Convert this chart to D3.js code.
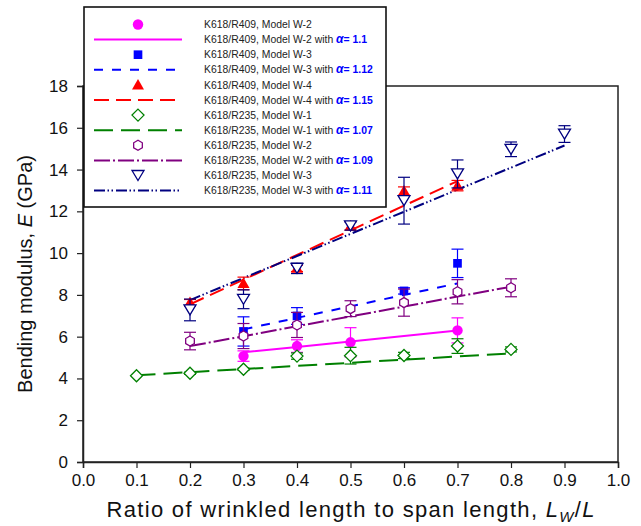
<!DOCTYPE html>
<html>
<head>
<meta charset="utf-8">
<script src="https://cdn.jsdelivr.net/npm/d3@7"></script>
<style>
  body { margin: 0; background: #fff; }
  svg { font-family: "Liberation Sans", Arial, sans-serif; }
</style>
</head>
<body>
<div id="chart"></div>
<script>
// tick values
var xTicks = [0, 0.1, 0.2, 0.3, 0.4, 0.5, 0.6, 0.7, 0.8, 0.9, 1.0];
var yTicks = [0, 2, 4, 6, 8, 10, 12, 14, 16, 18];

// K618/R409, Model W-2 (magenta circles) + fit a=1.1
var r409w2X = [0.3, 0.4, 0.5, 0.7];
var r409w2E = [5.07, 5.55, 5.73, 6.30];
var r409w2Err = [0.25, 0.3, 0.7, 0.6];
var r409w2FitX = [0.3, 0.4, 0.5, 0.6, 0.7];
var r409w2Fit = [5.25, 5.51, 5.77, 6.03, 6.29];

// K618/R409, Model W-3 (blue squares) + fit a=1.12
var r409w3X = [0.3, 0.4, 0.6, 0.7];
var r409w3E = [6.25, 6.99, 8.19, 9.51];
var r409w3Err = [0.7, 0.4, 0.15, 0.68];
var r409w3FitX = [0.3, 0.4, 0.5, 0.6, 0.7];
var r409w3Fit = [6.35, 6.9, 7.45, 8.0, 8.55];

// K618/R409, Model W-4 (red triangles) + fit a=1.15
var r409w4X = [0.2, 0.3, 0.4, 0.5, 0.6, 0.7];
var r409w4E = [7.63, 8.55, 9.27, 11.3, 12.97, 13.23];
var r409w4Err = [0.15, 0.3, 0.15, 0.2, 0.2, 0.25];
var r409w4FitX = [0.2, 0.3, 0.4, 0.5, 0.6, 0.7];
var r409w4Fit = [7.55, 8.73, 9.91, 11.09, 12.27, 13.45];

// K618/R235, Model W-1 (green diamonds) + fit a=1.07
var r235w1X = [0.1, 0.2, 0.3, 0.4, 0.5, 0.6, 0.7, 0.8];
var r235w1E = [4.13, 4.25, 4.44, 5.07, 5.09, 5.1, 5.55, 5.39];
var r235w1Err = [0, 0.05, 0.05, 0.15, 0.4, 0.15, 0.35, 0.12];
var r235w1FitX = [0.1, 0.2, 0.3, 0.4, 0.5, 0.6, 0.7, 0.8];
var r235w1Fit = [4.15, 4.3, 4.45, 4.6, 4.75, 4.9, 5.05, 5.2];

// K618/R235, Model W-2 (purple hexagons) + fit a=1.09
var r235w2X = [0.2, 0.3, 0.4, 0.5, 0.6, 0.7, 0.8];
var r235w2E = [5.79, 6.03, 6.56, 7.34, 7.63, 8.15, 8.34];
var r235w2Err = [0.42, 0.6, 0.6, 0.38, 0.65, 0.58, 0.43];
var r235w2FitX = [0.2, 0.3, 0.4, 0.5, 0.6, 0.7, 0.8];
var r235w2Fit = [5.55, 6.02, 6.5, 6.97, 7.44, 7.92, 8.39];

// K618/R235, Model W-3 (navy down triangles) + fit a=1.11
var r235w3X = [0.2, 0.3, 0.4, 0.5, 0.6, 0.7, 0.8, 0.9];
var r235w3E = [7.28, 7.79, 9.27, 11.3, 12.51, 13.79, 14.97, 15.7];
var r235w3Err = [0.52, 0.45, 0.25, 0.2, 1.12, 0.67, 0.35, 0.4];
var r235w3FitX = [0.2, 0.3, 0.4, 0.5, 0.6, 0.7, 0.8, 0.9];
var r235w3Fit = [7.75, 8.81, 9.86, 10.92, 11.98, 13.04, 14.09, 15.15];

var legendLabels = ["K618/R409, Model W-2", "K618/R409, Model W-2 with ",
  "K618/R409, Model W-3", "K618/R409, Model W-3 with ",
  "K618/R409, Model W-4", "K618/R409, Model W-4 with ",
  "K618/R235, Model W-1", "K618/R235, Model W-1 with ",
  "K618/R235, Model W-2", "K618/R235, Model W-2 with ",
  "K618/R235, Model W-3", "K618/R235, Model W-3 with "];
var alphas = ["1.1", "1.12", "1.15", "1.07", "1.09", "1.11"];

var W = 641, H = 526;
var margin = {top: 86, right: 23, bottom: 64, left: 83};
var width = W - margin.left - margin.right,
    height = H - margin.top - margin.bottom;

var svg = d3.select("#chart").append("svg")
    .attr("width", W).attr("height", H);
var g = svg.append("g")
    .attr("transform", "translate(" + margin.left + "," + margin.top + ")");

var x = d3.scaleLinear().domain([0, 1]).range([0, width]);
var y = d3.scaleLinear().domain([0, 18]).range([height, 0]);

// frame
g.append("rect").attr("width", width).attr("height", height)
  .attr("fill", "none").attr("stroke", "#222").attr("stroke-width", 1.5);

var xAxis = g.append("g")
    .attr("transform", "translate(0," + height + ")")
    .call(d3.axisBottom(x).tickValues(xTicks).tickSize(6).tickPadding(6)
      .tickFormat(d3.format(".1f")));
var yAxis = g.append("g")
    .call(d3.axisLeft(y).tickValues(yTicks).tickSize(6).tickPadding(9)
      .tickFormat(d3.format("d")));
[xAxis, yAxis].forEach(function(a) {
  a.select(".domain").attr("stroke", "#222").attr("stroke-width", 1.5);
  a.selectAll(".tick line").attr("stroke", "#222").attr("stroke-width", 1.2);
  a.selectAll("text").attr("font-size", "17px").attr("fill", "#111")
    .style("font-family", "Liberation Sans, Arial, sans-serif");
});

// axis titles
var xt = svg.append("text").attr("x", margin.left + width / 2).attr("y", 517)
  .attr("text-anchor", "middle").attr("font-size", "22px").attr("fill", "#111")
  .attr("textLength", 488).attr("lengthAdjust", "spacing");
xt.append("tspan").text("Ratio of wrinkled length to span length, ");
xt.append("tspan").attr("font-style", "italic").text("L");
xt.append("tspan").attr("font-style", "italic").attr("font-size", "15px").attr("dy", 5).text("W");
xt.append("tspan").attr("dy", -5).text("/");
xt.append("tspan").attr("font-style", "italic").text("L");

var yt = svg.append("text")
  .attr("transform", "translate(32," + (margin.top + height / 2) + ") rotate(-90)")
  .attr("text-anchor", "middle").attr("font-size", "20px").attr("fill", "#111");
yt.append("tspan").text("Bending modulus, ");
yt.append("tspan").attr("font-style", "italic").text("E");
yt.append("tspan").text(" (GPa)");

// marker shapes
function markerPath(type) {
  if (type == "circle") return d3.symbol().type(d3.symbolCircle).size(85)();
  if (type == "square") return d3.symbol().type(d3.symbolSquare).size(75)();
  if (type == "triangle") return "M0,-6L6,4.5L-6,4.5Z";
  if (type == "diamond") return "M0,-6L6,0L0,6L-6,0Z";
  if (type == "hexagon") return d3.line()(d3.range(6).map(function(i) {
      var a = Math.PI / 6 + i * Math.PI / 3; return [5 * Math.cos(a), 5 * Math.sin(a)]; })) + "Z";
  if (type == "down") return "M0,5L6,-5L-6,-5Z";
}

var series = [
  {xs: r409w2X, es: r409w2E, err: r409w2Err, fx: r409w2FitX, fy: r409w2Fit, color: "#ff00ff", shape: "circle", filled: true, dash: null},
  {xs: r409w3X, es: r409w3E, err: r409w3Err, fx: r409w3FitX, fy: r409w3Fit, color: "#0000ff", shape: "square", filled: true, dash: "9,9"},
  {xs: r409w4X, es: r409w4E, err: r409w4Err, fx: r409w4FitX, fy: r409w4Fit, color: "#ff0000", shape: "triangle", filled: true, dash: "15,7"},
  {xs: r235w1X, es: r235w1E, err: r235w1Err, fx: r235w1FitX, fy: r235w1Fit, color: "#008000", shape: "diamond", filled: false, dash: "19,8"},
  {xs: r235w2X, es: r235w2E, err: r235w2Err, fx: r235w2FitX, fy: r235w2Fit, color: "#800080", shape: "hexagon", filled: false, dash: "16,3,2,3"},
  {xs: r235w3X, es: r235w3E, err: r235w3Err, fx: r235w3FitX, fy: r235w3Fit, color: "#000080", shape: "down", filled: false, dash: "11,2.5,1.5,2.5,1.5,3"}
];

var line = d3.line().x(function(d) { return x(d[0]); }).y(function(d) { return y(d[1]); });

// fitted model lines
series.forEach(function(s) {
  g.append("path")
    .datum(d3.zip(s.fx, s.fy))
    .attr("fill", "none")
    .attr("stroke", s.color)
    .attr("stroke-width", 2)
    .attr("stroke-dasharray", s.dash)
    .attr("d", line);
});

// error bars + markers
series.forEach(function(s) {
  var pts = d3.zip(s.xs, s.es, s.err);
  var eb = g.append("g").attr("stroke", s.color).attr("stroke-width", 1.2);
  pts.forEach(function(p) {
    if (p[2] <= 0) return;
    var cx = x(p[0]), y1 = y(p[1] + p[2]), y2 = y(p[1] - p[2]);
    eb.append("line").attr("x1", cx).attr("x2", cx).attr("y1", y1).attr("y2", y2);
    eb.append("line").attr("x1", cx - 6).attr("x2", cx + 6).attr("y1", y1).attr("y2", y1);
    eb.append("line").attr("x1", cx - 6).attr("x2", cx + 6).attr("y1", y2).attr("y2", y2);
  });
  g.append("g").selectAll("path")
    .data(pts)
    .enter().append("path")
      .attr("transform", function(d) { return "translate(" + x(d[0]) + "," + y(d[1]) + ")"; })
      .attr("d", markerPath(s.shape))
      .attr("fill", s.filled ? s.color : "#fff")
      .attr("stroke", s.color)
      .attr("stroke-width", s.filled ? 0 : 1.3);
});

// legend
var lg = svg.append("g");
lg.append("rect").attr("x", 84).attr("y", 7).attr("width", 302).attr("height", 200)
  .attr("fill", "#fff").attr("stroke", "#111").attr("stroke-width", 1.6);

legendLabels.forEach(function(lab, i) {
  var s = series[Math.floor(i / 2)];
  var cy = 24.5 + i * 15.1;
  if (i % 2 == 0) {
    lg.append("path").attr("transform", "translate(138," + cy + ")")
      .attr("d", markerPath(s.shape))
      .attr("fill", s.filled ? s.color : "#fff")
      .attr("stroke", s.color)
      .attr("stroke-width", s.filled ? 0 : 1.3);
  } else {
    lg.append("line").attr("x1", 94).attr("x2", 182).attr("y1", cy).attr("y2", cy)
      .attr("stroke", s.color).attr("stroke-width", 2)
      .attr("stroke-dasharray", s.dash);
  }
  var t = lg.append("text").attr("x", 204).attr("y", cy).attr("dy", "0.35em")
    .attr("font-size", "10.4px").attr("fill", "#222").text(lab);
  if (i % 2 == 1) {
    t.append("tspan").attr("fill", "#0000ff").attr("font-weight", "bold")
      .attr("font-style", "italic").attr("font-size", "12px").text("α");
    t.append("tspan").attr("fill", "#0000ff").attr("font-weight", "bold")
      .text("= " + alphas[(i - 1) / 2]);
  }
});
</script>
</body>
</html>
